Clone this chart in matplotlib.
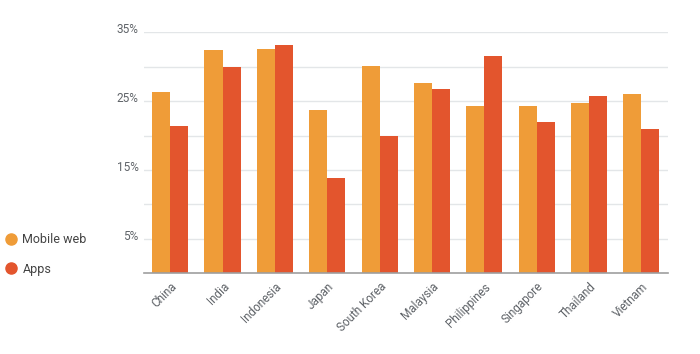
## grouped bar chart: mobile web vs apps share by country

import matplotlib
matplotlib.use('Agg')
import matplotlib.pyplot as plt
from matplotlib.lines import Line2D
from matplotlib.transforms import ScaledTranslation
import numpy as np

countries = ['China', 'India', 'Indonesia', 'Japan', 'South Korea',
             'Malaysia', 'Philippines', 'Singapore', 'Thailand', 'Vietnam']
mobile_web = [26.3, 32.4, 32.6, 23.7, 30.1, 27.6, 24.3, 24.3, 24.7, 26.0]
apps = [21.4, 30.0, 33.2, 13.9, 19.9, 26.8, 31.6, 22.0, 25.8, 21.0]
series_names = ['Mobile web', 'Apps']
major_ticks = [5, 15, 25, 35]
minor_ticks = [10, 20, 30]

col_web = '#EF9C38'
col_apps = '#E3552D'
txt_col = '#5f6368'

plt.rcParams['font.family'] = ['Roboto', 'DejaVu Sans']

fig = plt.figure(figsize=(7, 3.54), dpi=100)
ax = fig.add_axes([0.2057, 0.228, 0.748, 0.681])

x = np.arange(len(countries))
w = 0.345
ax.bar(x - w/2, mobile_web, w, color=col_web, zorder=3)
ax.bar(x + w/2, apps, w, color=col_apps, zorder=3)

ax.set_xlim(-0.5, len(countries) - 0.5)
ax.set_ylim(0, 35)
ax.set_yticks(major_ticks)
ax.set_yticklabels(['%d%%' % t for t in major_ticks])
ax.set_yticks(minor_ticks, minor=True)
ax.grid(axis='y', which='both', color='#e3e6e8', linewidth=1, zorder=0)
ax.tick_params(axis='y', which='both', length=0, pad=4, labelsize=8.5, labelcolor=txt_col)
## lift the y labels a little above their gridline
off = ScaledTranslation(0, 3/72., fig.dpi_scale_trans)
for lab in ax.get_yticklabels():
    lab.set_transform(lab.get_transform() + off)

ax.set_xticks(x)
ax.set_xticklabels(countries, rotation=45, ha='right', rotation_mode='anchor')
ax.tick_params(axis='x', length=0, pad=5, labelsize=8.5, labelcolor=txt_col)

for s in ['top', 'right', 'left']:
    ax.spines[s].set_visible(False)
ax.spines['bottom'].set_color('#9e9e9e')
ax.spines['bottom'].set_linewidth(1.2)
ax.spines['bottom'].set_zorder(4)

handles = [Line2D([], [], marker='o', linestyle='', markersize=8, color=c)
           for c in [col_web, col_apps]]
fig.legend(handles, series_names, loc='upper left', bbox_to_anchor=(-0.002, 0.355),
           frameon=False, fontsize=9, labelcolor='#444444', handletextpad=0.3,
           labelspacing=1.3, handlelength=1.2, borderaxespad=0)

fig.savefig('out.png', dpi=100)
